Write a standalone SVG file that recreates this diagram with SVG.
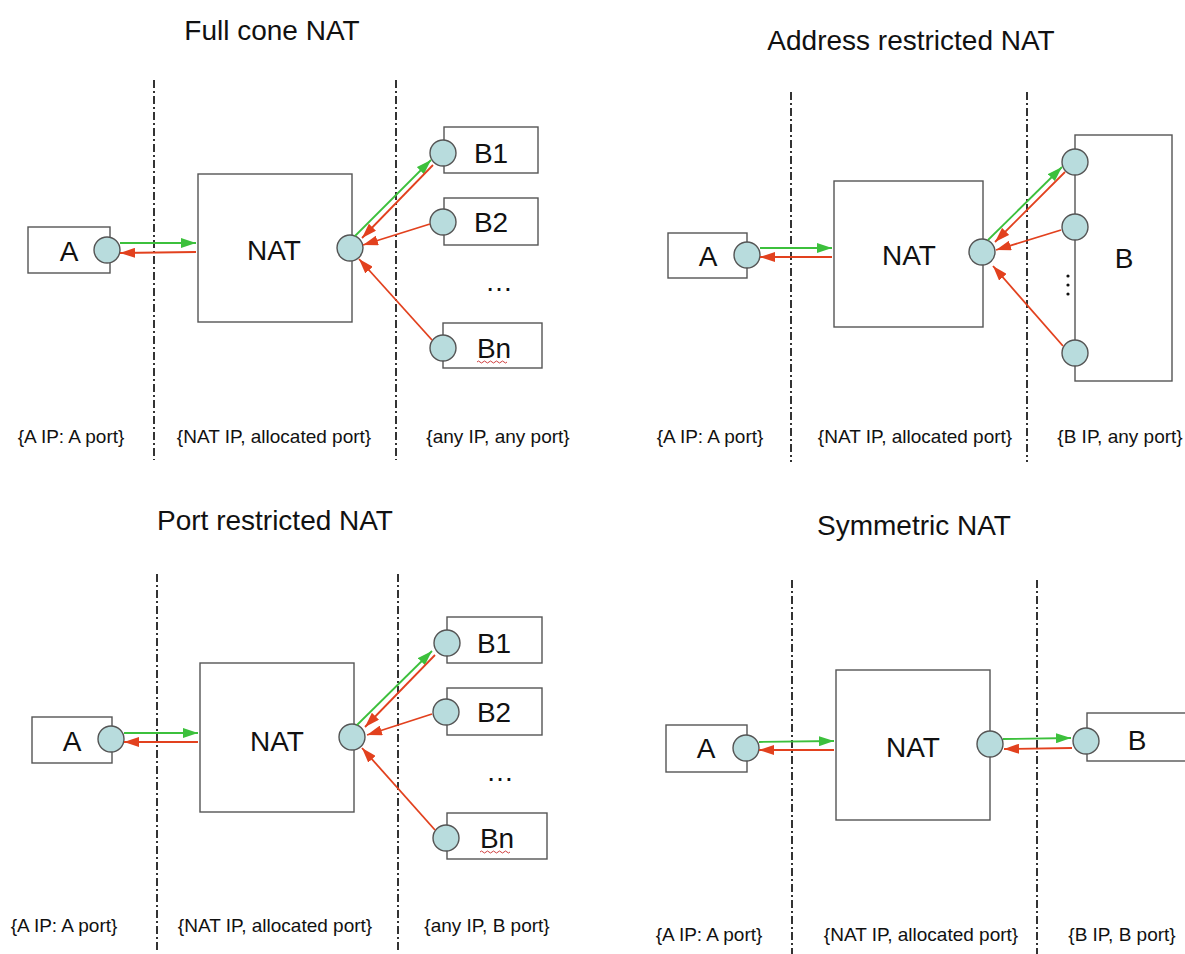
<svg xmlns="http://www.w3.org/2000/svg" width="1185" height="954" viewBox="0 0 1185 954">
  <style>
    .title { font-family: "Liberation Sans", Arial, sans-serif; font-size: 28px; fill: #111; text-anchor: middle; }
    .lbl { font-family: "Liberation Sans", Arial, sans-serif; font-size: 28px; fill: #111; text-anchor: middle; }
    .addr { font-family: "Liberation Sans", Arial, sans-serif; font-size: 19px; fill: #111; text-anchor: middle; }
    .box { fill: #fff; stroke: #555; stroke-width: 1.4; }
    .port { fill: #b8dcdd; stroke: #555; stroke-width: 1.4; }
    .sep { stroke: #333; stroke-width: 2; stroke-dasharray: 8 3 2 3; fill: none; }
    .out { stroke: #3cc03c; stroke-width: 1.8; fill: none; marker-end: url(#headG); }
    .in { stroke: #e2411e; stroke-width: 1.8; fill: none; marker-end: url(#headR); }
    .squig { stroke: #d04040; stroke-width: 1; fill: none; }
  </style>
  <defs>
    <marker id="headG" markerUnits="userSpaceOnUse" markerWidth="16" markerHeight="10" refX="15" refY="5" orient="auto">
      <path d="M0,0 L15,5 L0,10 z" fill="#3cc03c"/>
    </marker>
    <marker id="headR" markerUnits="userSpaceOnUse" markerWidth="16" markerHeight="10" refX="15" refY="5" orient="auto">
      <path d="M0,0 L15,5 L0,10 z" fill="#e2411e"/>
    </marker>
  </defs>
  <rect width="1185" height="954" fill="#fff"/>

  <!-- titles -->
  <text class="title" x="272" y="40">Full cone NAT</text>
  <text class="title" x="911" y="50">Address restricted NAT</text>
  <text class="title" x="275" y="530">Port restricted NAT</text>
  <text class="title" x="914" y="535">Symmetric NAT</text>

  <!-- boundary separators -->
  <g id="separators">
    <line class="sep" x1="154" y1="80" x2="154" y2="460"/>
    <line class="sep" x1="396" y1="80" x2="396" y2="460"/>
    <line class="sep" x1="791" y1="92" x2="791" y2="462"/>
    <line class="sep" x1="1027" y1="92" x2="1027" y2="462"/>
    <line class="sep" x1="157" y1="574" x2="157" y2="952"/>
    <line class="sep" x1="398" y1="574" x2="398" y2="952"/>
    <line class="sep" x1="792" y1="580" x2="792" y2="954"/>
    <line class="sep" x1="1037" y1="580" x2="1037" y2="954"/>
  </g>

  <!-- ===== Full cone NAT ===== -->
  <g id="fc-A">
    <rect class="box" x="28" y="227" width="82" height="46"/>
    <text class="lbl" x="69" y="261">A</text>
    <circle class="port" cx="107" cy="250" r="13"/>
  </g>
  <g id="fc-NAT">
    <rect class="box" x="198" y="174" width="154" height="148"/>
    <text class="lbl" x="274" y="260">NAT</text>
    <circle class="port" cx="350" cy="248" r="13"/>
  </g>
  <g id="fc-B1">
    <rect class="box" x="444" y="127" width="94" height="46"/>
    <text class="lbl" x="491" y="163">B1</text>
    <circle class="port" cx="443" cy="153" r="13"/>
  </g>
  <g id="fc-B2">
    <rect class="box" x="444" y="198" width="94" height="47"/>
    <text class="lbl" x="491" y="232">B2</text>
    <circle class="port" cx="443" cy="222" r="13"/>
  </g>
  <text class="lbl" x="499" y="291">…</text>
  <g id="fc-Bn">
    <rect class="box" x="443" y="323" width="99" height="45"/>
    <text class="lbl" x="494" y="358">Bn</text>
    <path class="squig" d="M477,362 q1.5,-2 3,0 t3,0 t3,0 t3,0 t3,0 t3,0 t3,0 t3,0 t3,0 t3,0"/>
    <circle class="port" cx="443" cy="348" r="13"/>
  </g>

  <!-- ===== Address restricted NAT ===== -->
  <g id="ar-A">
    <rect class="box" x="668" y="233" width="79" height="45"/>
    <text class="lbl" x="708" y="266">A</text>
    <circle class="port" cx="747" cy="255" r="13"/>
  </g>
  <g id="ar-NAT">
    <rect class="box" x="834" y="181" width="149" height="146"/>
    <text class="lbl" x="909" y="265">NAT</text>
    <circle class="port" cx="982" cy="252" r="13"/>
  </g>
  <g id="ar-B">
    <rect class="box" x="1075" y="135" width="97" height="246"/>
    <text class="lbl" x="1124" y="268">B</text>
    <circle class="port" cx="1075" cy="162" r="13"/>
    <circle class="port" cx="1075" cy="227" r="13"/>
    <circle class="port" cx="1075" cy="353" r="13"/>
    <circle cx="1068" cy="276" r="1.6" fill="#111"/>
    <circle cx="1068" cy="285" r="1.6" fill="#111"/>
    <circle cx="1068" cy="294" r="1.6" fill="#111"/>
  </g>

  <!-- ===== Port restricted NAT ===== -->
  <g id="pr-A">
    <rect class="box" x="32" y="717" width="80" height="46"/>
    <text class="lbl" x="72" y="751">A</text>
    <circle class="port" cx="111" cy="739" r="13"/>
  </g>
  <g id="pr-NAT">
    <rect class="box" x="200" y="663" width="154" height="149"/>
    <text class="lbl" x="277" y="751">NAT</text>
    <circle class="port" cx="352" cy="737" r="13"/>
  </g>
  <g id="pr-B1">
    <rect class="box" x="447" y="617" width="95" height="46"/>
    <text class="lbl" x="494" y="653">B1</text>
    <circle class="port" cx="447" cy="643" r="13"/>
  </g>
  <g id="pr-B2">
    <rect class="box" x="447" y="688" width="95" height="47"/>
    <text class="lbl" x="494" y="722">B2</text>
    <circle class="port" cx="446" cy="712" r="13"/>
  </g>
  <text class="lbl" x="500" y="781">…</text>
  <g id="pr-Bn">
    <rect class="box" x="447" y="813" width="100" height="46"/>
    <text class="lbl" x="497" y="848">Bn</text>
    <path class="squig" d="M480,852 q1.5,-2 3,0 t3,0 t3,0 t3,0 t3,0 t3,0 t3,0 t3,0 t3,0 t3,0"/>
    <circle class="port" cx="446" cy="838" r="13"/>
  </g>

  <!-- ===== Symmetric NAT ===== -->
  <g id="sy-A">
    <rect class="box" x="666" y="725" width="81" height="47"/>
    <text class="lbl" x="706" y="758">A</text>
    <circle class="port" cx="746" cy="748" r="13"/>
  </g>
  <g id="sy-NAT">
    <rect class="box" x="836" y="670" width="154" height="150"/>
    <text class="lbl" x="913" y="757">NAT</text>
    <circle class="port" cx="990" cy="744" r="13"/>
  </g>
  <g id="sy-B">
    <rect class="box" x="1087" y="713" width="110" height="48"/>
    <text class="lbl" x="1137" y="750">B</text>
    <circle class="port" cx="1086" cy="741" r="13"/>
  </g>

  <!-- traffic flows -->
  <g id="connectors">
    <!-- full cone -->
    <line class="out" x1="120" y1="243" x2="196" y2="243"/>
    <line class="in" x1="196" y1="252" x2="120" y2="253"/>
    <line class="out" x1="355" y1="236" x2="431" y2="160"/>
    <line class="in" x1="433" y1="165" x2="362" y2="238"/>
    <line class="in" x1="430" y1="224" x2="363" y2="245"/>
    <line class="in" x1="432" y1="340" x2="359" y2="259"/>
    <!-- address restricted -->
    <line class="out" x1="760" y1="248" x2="832" y2="248"/>
    <line class="in" x1="832" y1="257" x2="760" y2="257"/>
    <line class="out" x1="988" y1="240" x2="1062" y2="167"/>
    <line class="in" x1="1065" y1="172" x2="995" y2="242"/>
    <line class="in" x1="1061" y1="230" x2="996" y2="250"/>
    <line class="in" x1="1063" y1="346" x2="993" y2="266"/>
    <!-- port restricted -->
    <line class="out" x1="124" y1="733" x2="198" y2="733"/>
    <line class="in" x1="198" y1="742" x2="124" y2="742"/>
    <line class="out" x1="357" y1="725" x2="432" y2="651"/>
    <line class="in" x1="435" y1="655" x2="365" y2="727"/>
    <line class="in" x1="432" y1="714" x2="367" y2="735"/>
    <line class="in" x1="435" y1="830" x2="362" y2="748"/>
    <!-- symmetric -->
    <line class="out" x1="759" y1="742" x2="834" y2="741"/>
    <line class="in" x1="834" y1="750" x2="759" y2="750"/>
    <line class="out" x1="1003" y1="739" x2="1071" y2="738"/>
    <line class="in" x1="1072" y1="748" x2="1004" y2="749"/>
  </g>

  <!-- address / port annotations -->
  <g id="annotations">
    <text class="addr" x="71" y="443">{A IP: A port}</text>
    <text class="addr" x="274" y="443">{NAT IP, allocated port}</text>
    <text class="addr" x="498" y="443">{any IP, any port}</text>
    <text class="addr" x="710" y="443">{A IP: A port}</text>
    <text class="addr" x="915" y="443">{NAT IP, allocated port}</text>
    <text class="addr" x="1120" y="443">{B IP, any port}</text>
    <text class="addr" x="64" y="932">{A IP: A port}</text>
    <text class="addr" x="275" y="932">{NAT IP, allocated port}</text>
    <text class="addr" x="487" y="932">{any IP, B port}</text>
    <text class="addr" x="709" y="941">{A IP: A port}</text>
    <text class="addr" x="921" y="941">{NAT IP, allocated port}</text>
    <text class="addr" x="1122" y="941">{B IP, B port}</text>
  </g>
</svg>
